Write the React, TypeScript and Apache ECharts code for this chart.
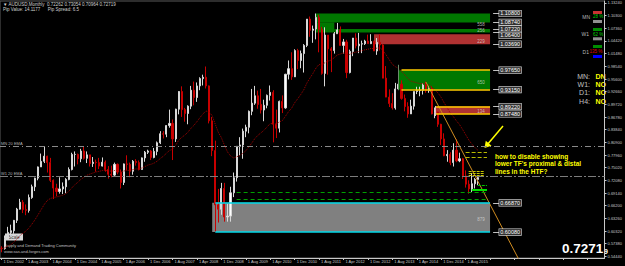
import React, { useEffect, useRef } from 'react';
import * as echarts from 'echarts';

// ---------- data (AUDUSD monthly, Dec 2002 .. Dec 2015) ----------
const open = [
  0.5630,
  0.5625, 0.5860, 0.6000, 0.6040, 0.6280, 0.6540, 0.6700, 0.6530, 0.6510, 0.6810, 0.7060, 0.7260,
  0.7520, 0.7650, 0.7770, 0.7620, 0.7210, 0.7030, 0.6950, 0.7010, 0.7060, 0.7230, 0.7460, 0.7810,
  0.7810, 0.7710, 0.7890, 0.7720, 0.7800, 0.7600, 0.7630, 0.7620, 0.7540, 0.7630, 0.7460, 0.7350,
  0.7330, 0.7580, 0.7400, 0.7160, 0.7590, 0.7580, 0.7420, 0.7650, 0.7620, 0.7460, 0.7730, 0.7860,
  0.7890, 0.7740, 0.7880, 0.8080, 0.8290, 0.8280, 0.8480, 0.8530, 0.8170, 0.8860, 0.9270, 0.8850,
  0.8760, 0.8930, 0.9300, 0.9130, 0.9400, 0.9570, 0.9600, 0.9400, 0.8590, 0.7900, 0.6640, 0.6540,
  0.7020, 0.6360, 0.6380, 0.6920, 0.7270, 0.8000, 0.8030, 0.8350, 0.8440, 0.8810, 0.9000, 0.9170,
  0.8970, 0.8840, 0.8950, 0.9180, 0.9250, 0.8510, 0.8420, 0.9040, 0.8890, 0.9670, 0.9800, 0.9610,
  1.0220, 0.9990, 1.0150, 1.0340, 1.0950, 1.0690, 1.0720, 1.0990, 1.0710, 0.9690, 1.0580, 1.0260,
  1.0220, 1.0610, 1.0700, 1.0340, 1.0420, 0.9710, 1.0200, 1.0510, 1.0330, 1.0370, 1.0380, 1.0440,
  1.0380, 1.0430, 1.0210, 1.0410, 1.0350, 0.9580, 0.9140, 0.8990, 0.8890, 0.9330, 0.9440, 0.9110,
  0.8920, 0.8750, 0.8930, 0.9270, 0.9290, 0.9300, 0.9420, 0.9290, 0.9340, 0.8750, 0.8790, 0.8510,
  0.8170, 0.7780, 0.7810, 0.7620, 0.7910, 0.7660, 0.7710, 0.7310, 0.7120, 0.7010, 0.7130, 0.72262,
];
const high = [
  0.5680,
  0.5930, 0.6130, 0.6180, 0.6290, 0.6570, 0.6780, 0.6750, 0.6650, 0.6880, 0.7110, 0.7270, 0.7530,
  0.7830, 0.8005, 0.7780, 0.7730, 0.7230, 0.7130, 0.7280, 0.7160, 0.7260, 0.7510, 0.7850, 0.7880,
  0.7830, 0.7940, 0.7990, 0.7880, 0.7800, 0.7750, 0.7690, 0.7730, 0.7740, 0.7670, 0.7540, 0.7550,
  0.7620, 0.7600, 0.7460, 0.7600, 0.7790, 0.7620, 0.7680, 0.7700, 0.7670, 0.7740, 0.7890, 0.7920,
  0.7910, 0.7960, 0.8110, 0.8350, 0.8350, 0.8490, 0.8850, 0.8620, 0.8870, 0.9280, 0.9390, 0.8890,
  0.8950, 0.9400, 0.9500, 0.9480, 0.9600, 0.9660, 0.9850, 0.9410, 0.8680, 0.8130, 0.7010, 0.7150,
  0.7150, 0.6670, 0.7060, 0.7390, 0.8000, 0.8210, 0.8410, 0.8500, 0.8830, 0.9330, 0.9400, 0.9290,
  0.9330, 0.9080, 0.9200, 0.9410, 0.9300, 0.8850, 0.9060, 0.9180, 0.9680, 0.9990, 1.0180, 1.0250,
  1.0260, 1.0220, 1.0370, 1.0950, 1.1010, 1.0800, 1.1080, 1.1050, 1.0770, 1.0760, 1.0580, 1.0300,
  1.0650, 1.0860, 1.0780, 1.0490, 1.0470, 1.0240, 1.0510, 1.0620, 1.0630, 1.0450, 1.0470, 1.0590,
  1.0600, 1.0450, 1.0510, 1.0600, 1.0370, 0.9860, 0.9320, 0.9230, 0.9470, 0.9760, 0.9530, 0.9200,
  0.9020, 0.9080, 0.9270, 0.9380, 0.9380, 0.9460, 0.9500, 0.9400, 0.9390, 0.8900, 0.8800, 0.8520,
  0.8300, 0.7910, 0.7860, 0.8070, 0.8160, 0.7850, 0.7730, 0.7440, 0.7210, 0.7380, 0.7260, 0.73054,
];
const low = [
  0.5540,
  0.5600, 0.5840, 0.5920, 0.5970, 0.6220, 0.6530, 0.6450, 0.6400, 0.6460, 0.6780, 0.6960, 0.7210,
  0.7520, 0.7610, 0.7390, 0.7170, 0.6775, 0.6840, 0.6900, 0.6890, 0.6910, 0.7210, 0.7440, 0.7530,
  0.7580, 0.7630, 0.7690, 0.7610, 0.7530, 0.7520, 0.7410, 0.7470, 0.7530, 0.7410, 0.7250, 0.7280,
  0.7300, 0.7350, 0.7020, 0.7100, 0.7450, 0.7280, 0.7340, 0.7550, 0.7440, 0.7460, 0.7640, 0.7820,
  0.7680, 0.7720, 0.7790, 0.8050, 0.8180, 0.8210, 0.8430, 0.7680, 0.8100, 0.8740, 0.8680, 0.8570,
  0.8510, 0.8860, 0.8950, 0.9030, 0.9300, 0.9410, 0.9340, 0.8530, 0.7770, 0.6010, 0.6230, 0.6410,
  0.6250, 0.6250, 0.6250, 0.6820, 0.7180, 0.7790, 0.7710, 0.8210, 0.8300, 0.8720, 0.8960, 0.8870,
  0.8760, 0.8580, 0.8880, 0.9060, 0.8090, 0.8190, 0.8320, 0.8770, 0.8870, 0.9550, 0.9540, 0.9730,
  0.9790, 0.9810, 0.9710, 1.0300, 1.0540, 1.0400, 1.0480, 1.0180, 0.9660, 0.9390, 0.9660, 0.9720,
  1.0150, 1.0610, 1.0350, 1.0150, 0.9580, 0.9690, 1.0090, 1.0270, 1.0160, 1.0160, 1.0350, 1.0380,
  1.0370, 1.0220, 1.0120, 1.0220, 0.9580, 0.9150, 0.8910, 0.8850, 0.8850, 0.9330, 0.9080, 0.8810,
  0.8660, 0.8770, 0.8850, 0.9210, 0.9160, 0.9200, 0.9240, 0.9240, 0.8740, 0.8650, 0.8450, 0.8030,
  0.7770, 0.7640, 0.7560, 0.7530, 0.7630, 0.7630, 0.7240, 0.7040, 0.6900, 0.6940, 0.7020, 0.70964,
];
const close = [
  0.5625,
  0.5860, 0.6000, 0.6040, 0.6280, 0.6540, 0.6700, 0.6530, 0.6510, 0.6810, 0.7060, 0.7260, 0.7520,
  0.7650, 0.7770, 0.7620, 0.7210, 0.7030, 0.6950, 0.7010, 0.7060, 0.7230, 0.7460, 0.7810, 0.7810,
  0.7710, 0.7890, 0.7720, 0.7800, 0.7600, 0.7630, 0.7620, 0.7540, 0.7630, 0.7460, 0.7350, 0.7330,
  0.7580, 0.7400, 0.7160, 0.7590, 0.7580, 0.7420, 0.7650, 0.7620, 0.7460, 0.7730, 0.7860, 0.7890,
  0.7740, 0.7880, 0.8080, 0.8290, 0.8280, 0.8480, 0.8530, 0.8170, 0.8860, 0.9270, 0.8850, 0.8760,
  0.8930, 0.9300, 0.9130, 0.9400, 0.9570, 0.9600, 0.9400, 0.8590, 0.7900, 0.6640, 0.6540, 0.7020,
  0.6360, 0.6380, 0.6920, 0.7270, 0.8000, 0.8030, 0.8350, 0.8440, 0.8810, 0.9000, 0.9170, 0.8970,
  0.8840, 0.8950, 0.9180, 0.9250, 0.8510, 0.8420, 0.9040, 0.8890, 0.9670, 0.9800, 0.9610, 1.0220,
  0.9990, 1.0150, 1.0340, 1.0950, 1.0690, 1.0720, 1.0990, 1.0710, 0.9690, 1.0580, 1.0260, 1.0220,
  1.0610, 1.0700, 1.0340, 1.0420, 0.9710, 1.0200, 1.0510, 1.0330, 1.0370, 1.0380, 1.0440, 1.0380,
  1.0430, 1.0210, 1.0410, 1.0350, 0.9580, 0.9140, 0.8990, 0.8890, 0.9330, 0.9440, 0.9110, 0.8920,
  0.8750, 0.8930, 0.9270, 0.9290, 0.9300, 0.9420, 0.9290, 0.9340, 0.8750, 0.8790, 0.8510, 0.8170,
  0.7780, 0.7810, 0.7620, 0.7910, 0.7660, 0.7710, 0.7310, 0.7120, 0.7010, 0.7130, 0.7230, 0.72719,
];

const xTickLabels = [
  '1 Dec 2002', '1 Aug 2003', '1 Apr 2004', '1 Dec 2004', '1 Aug 2005', '1 Apr 2006', '1 Dec 2006',
  '1 Aug 2007', '1 Apr 2008', '1 Dec 2008', '1 Aug 2009', '1 Apr 2010', '1 Dec 2010', '1 Aug 2011',
  '1 Apr 2012', '1 Dec 2012', '1 Aug 2013', '1 Apr 2014', '1 Dec 2014', '1 Aug 2015',
];
const yTicks = [
  1.1324, 1.1030, 1.0736, 1.0442, 1.0148, 0.9854, 0.9560, 0.9266, 0.8972, 0.8678, 0.8384,
  0.8090, 0.7796, 0.7502, 0.7208, 0.6914, 0.6620, 0.6326, 0.6032, 0.5738, 0.5444,
];

// supply / demand zones: start index, top, bottom
const zoneStart = [103, 103, 109, 122, 130, 142, 69];
const zoneTop = [1.1080, 1.0874, 1.0722, 1.0600, 0.9765, 0.8922, 0.6687];
const zoneBottom = [1.0874, 1.0640, 1.0640, 1.0369, 0.9315, 0.8748, 0.6008];
const zoneKind = ['green', 'green', 'green', 'red', 'green', 'red', 'gray'];
const zoneEnd = 160;
const zoneTagText = ['558', '256', '229', '650', '134', '879'];
const zoneTagPrice = [1.0836, 1.0690, 1.0426, 0.9490, 0.8795, 0.6290];
const priceBoxValues = [1.1080, 1.0874, 1.0722, 1.0640, 1.0369, 0.9765, 0.9315, 0.8922, 0.8748, 0.6687, 0.6008];

const mnEma = 0.7959;
const bidPrice = 0.72719;
const trendFrom = [139, 0.9490];
const trendTo = [170, 0.5296];
const greenDashed = [0.6932, 0.6770];
const yellowDashed = [0.7850, 0.7744];
const yellowShort = [0.7420, 0.7375, 0.7330];

const N_CAT = 198;
const FONT = '"Liberation Sans", Arial, sans-serif';

const ZONE_COLORS: Record<string, string> = { green: '#007800', red: '#b03232', gray: '#808080' };

function hLine(x0: number, x1: number, y: number, color: string, width: number, type: any) {
  return [
    { coord: [x0, y], lineStyle: { color, width, type } },
    { coord: [x1, y] },
  ];
}

export default function App() {
  const ref = useRef<HTMLDivElement>(null);
  useEffect(() => {
    const chart = echarts.init(ref.current!, null, { renderer: 'svg' });
    const candles = close.map((c, i) => [open[i], c, low[i], high[i]]);
    const ema: number[] = [];
    close.forEach((c, i) => ema.push(i === 0 ? c : ema[i - 1] + (2 / 21) * (c - ema[i - 1])));

    const areas = zoneStart.map((s, i) => [
      { xAxis: s, yAxis: zoneTop[i], itemStyle: { color: ZONE_COLORS[zoneKind[i]] } },
      { xAxis: i === 1 ? 109 : zoneEnd, yAxis: zoneBottom[i] },
    ]);

    const lines: any[] = [];
    lines.push(hLine(131, zoneEnd, 0.9765, '#ffcc00', 1.5, 'solid'));
    lines.push(hLine(131, zoneEnd, 0.9315, '#ffcc00', 1.5, 'solid'));
    lines.push(hLine(142, zoneEnd, 0.8922, '#ffcc00', 1.5, 'solid'));
    lines.push(hLine(142, zoneEnd, 0.8748, '#ffcc00', 1.5, 'solid'));
    lines.push(hLine(70, zoneEnd, 0.6687, '#00d8e8', 1.5, 'solid'));
    lines.push(hLine(70, zoneEnd, 0.6008, '#00d8e8', 1.5, 'solid'));
    lines.push([{ coord: [130, 0.9890], lineStyle: { color: '#6a8a6a', width: 1, type: 'solid' } }, { coord: [130, 0.9300] }]);
    lines.push([{ coord: [142, 0.8935], lineStyle: { color: '#e8c0c0', width: 1, type: 'solid' } }, { coord: [142, 0.8700] }]);
    greenDashed.forEach((p) => lines.push(hLine(77, 159, p, '#00a000', 1, [4, 3])));
    yellowDashed.forEach((p) => lines.push(hLine(152, 159, p, '#b8b800', 1, [4, 2])));
    yellowShort.forEach((p) => lines.push(hLine(153, 158, p, '#c8c800', 1, [3, 1])));
    lines.push(hLine(156, 159, 0.7100, '#00c000', 1, [3, 1]));
    lines.push(hLine(154, 159, 0.7000, '#00e000', 2, 'solid'));
    // price boxes
    priceBoxValues.forEach((p) =>
      lines.push([
        {
          coord: [161, p],
          lineStyle: { color: '#c0c0c0', width: 1, type: 'solid' },
          label: {
            show: true, position: 'end', distance: 0, formatter: p.toFixed(5),
            color: '#ffffff', fontSize: 5.5, fontFamily: FONT, backgroundColor: '#303030',
            borderColor: '#e0e0e0', borderWidth: 0.6, padding: [0.5, 1, 0, 1], lineHeight: 5.5,
            offset: p === 1.0640 ? [0, 3] : [0, 0],
          },
        },
        { coord: [163, p] },
      ]),
    );
    // EMA level lines
    lines.push({
      yAxis: mnEma, lineStyle: { color: '#8a8a8a', width: 1, type: [6, 3, 1, 3] },
      label: { show: true, position: 'insideStartTop', distance: 1, formatter: 'MN 20 EMA', color: '#b0b0b0', fontSize: 4, fontFamily: FONT },
    });
    lines.push({
      yAxis: mnEma, lineStyle: { opacity: 0 },
      label: { show: true, position: 'end', distance: 1, formatter: '0.79590', color: '#000', fontSize: 4, fontFamily: FONT, backgroundColor: '#8c8c8c', padding: [1, 1] },
    });
    lines.push({
      yAxis: bidPrice, lineStyle: { color: '#7c7c7c', width: 1, type: [8, 2, 2, 2] },
      label: { show: true, position: 'insideStartTop', distance: 1, formatter: 'W1 20 EMA', color: '#b0b0b0', fontSize: 4, fontFamily: FONT },
    });
    lines.push({
      yAxis: bidPrice, lineStyle: { opacity: 0 },
      label: { show: true, position: 'end', distance: 1, formatter: '0.72719', color: '#000', fontSize: 4, fontFamily: FONT, backgroundColor: '#8c8c8c', padding: [1, 1] },
    });

    const txt = (x: number, y: number, text: string, fill: string, fontSize: number, extra: any = {}) => ({
      type: 'text', x, y, silent: true,
      style: { text, fill, fontSize, fontFamily: FONT, verticalAlign: 'middle', ...extra },
    });
    const bar = (x: number, y: number, w: number, h: number, fill: string) => ({
      type: 'rect', silent: true, shape: { x, y, width: w, height: h }, style: { fill },
    });

    const option: any = {
      animation: false,
      backgroundColor: '#000000',
      grid: { left: 0, top: 1, right: 17, bottom: 8, show: true, borderColor: '#5a5a5a', borderWidth: 1 },
      xAxis: {
        type: 'category',
        data: Array.from({ length: N_CAT }, (_, i) => String(i)),
        boundaryGap: true,
        axisLine: { show: true, lineStyle: { color: '#c8c8c8', width: 1 } },
        axisTick: { show: true, interval: 7, alignWithLabel: true, length: 2, lineStyle: { color: '#c8c8c8' } },
        axisLabel: {
          interval: 7, fontSize: 4, color: '#c8c8c8', align: 'left', margin: 1, fontFamily: FONT,
          padding: [0, 0, 0, 2],
          formatter: (_v: string, i: number) => (i % 8 === 0 && xTickLabels[i / 8]) ? xTickLabels[i / 8] : '',
        },
        splitLine: { show: false },
      },
      yAxis: {
        type: 'value', position: 'right', min: 0.5407, max: 1.137, scale: true,
        splitLine: { show: false },
        axisLine: { show: true, lineStyle: { color: '#c8c8c8', width: 1 } },
        axisTick: { show: true, length: 2, customValues: yTicks, lineStyle: { color: '#c8c8c8' } },
        axisLabel: {
          customValues: yTicks, fontSize: 4, color: '#c8c8c8', margin: 3, fontFamily: FONT,
          formatter: (v: number) => v.toFixed(5),
        },
      },
      series: [
        {
          type: 'candlestick', data: candles, barWidth: 1.6, z: 2,
          itemStyle: { color: '#ffffff', color0: '#c80000', borderColor: '#d8d8d8', borderColor0: '#c80000', borderWidth: 1 },
          markArea: { silent: true, data: areas },
          markLine: { silent: true, symbol: ['none', 'none'], label: { show: false }, data: lines },
        },
        {
          type: 'line', data: ema, showSymbol: false, symbol: 'none', z: 3, silent: true,
          lineStyle: { color: '#a00000', width: 1, type: 'dotted' },
        },
        {
          type: 'line', data: [trendFrom, trendTo], showSymbol: false, symbol: 'none', z: 4, silent: true, clip: true,
          lineStyle: { color: '#d08c20', width: 1 },
        },
        {
          type: 'scatter', symbolSize: 0, z: 4, silent: true,
          data: zoneTagText.map((t, i) => [157, zoneTagPrice[i], t]),
          label: { show: true, position: 'inside', formatter: (p: any) => p.value[2], color: '#d8d8d8', fontSize: 4.5, fontFamily: FONT },
        },
      ],
      graphic: [
        txt(3, 4, '\u25BC AUDUSD,Monthly  0.72262 0.73054 0.70964 0.72719', '#d0d0d0', 4.5),
        txt(3, 9.5, 'Pip Value: 14.1177      Pip Spread: 6.5', '#d0d0d0', 4.5),
        // top-right strength panel
        bar(593, 11, 9, 3, '#c83232'),
        txt(590, 16.7, 'MN', '#b8b8b8', 5, { align: 'right' }),
        txt(593, 16.7, '28 %', '#00d000', 4.5),
        bar(593, 20, 9, 3, '#909090'),
        bar(593, 28, 9, 3, '#008c00'),
        txt(589, 34, 'W1', '#b8b8b8', 5, { align: 'right' }),
        txt(593, 34, '62 %', '#00d000', 4.5),
        bar(593, 37.3, 9, 3, '#909090'),
        bar(593, 45, 9, 3, '#008c00'),
        txt(589, 51.7, 'D1', '#b8b8b8', 5, { align: 'right' }),
        txt(589.5, 51.7, '135 %', '#e00000', 4.5),
        bar(593, 55, 9, 3, '#0000ff'),
        txt(590, 76, 'MN:', '#c0c0c0', 7, { align: 'right' }),
        txt(595.5, 76, 'DN', '#ffff00', 7, { fontWeight: 'bold' }),
        txt(590, 84.3, 'W1:', '#c0c0c0', 7, { align: 'right' }),
        txt(595.5, 84.3, 'NO', '#ffff00', 7, { fontWeight: 'bold' }),
        txt(590, 92.7, 'D1:', '#c0c0c0', 7, { align: 'right' }),
        txt(595.5, 92.7, 'NO', '#ffff00', 7, { fontWeight: 'bold' }),
        txt(590, 101, 'H4:', '#c0c0c0', 7, { align: 'right' }),
        txt(595.5, 101, 'NO', '#ffff00', 7, { fontWeight: 'bold' }),
        // annotation
        {
          type: 'line', silent: true, shape: { x1: 503, y1: 126, x2: 487, y2: 145 },
          style: { stroke: '#ffff00', lineWidth: 1.5 },
        },
        {
          type: 'polygon', silent: true, shape: { points: [[484.5, 148], [485.8, 140.8], [491.5, 145.8]] },
          style: { fill: '#ffff00' },
        },
        {
          type: 'text', x: 495, y: 152.3, silent: true,
          style: {
            text: "how to disable showing\nlower TF's proximal & distal\nlines in the HTF?",
            fill: '#ffff00', fontSize: 6.5, fontWeight: 'bold', fontFamily: FONT, lineHeight: 7.8,
          },
        },
        // bottom-right price
        txt(562, 248, '0.7271', '#ffffff', 13.5, { fontWeight: 'bold' }),
        txt(604, 251.5, '9', '#ffffff', 7, { fontWeight: 'bold' }),
        // bottom-left
        bar(5, 233.5, 18, 7, '#d8d8d8'),
        txt(14, 237, 'Scale', '#404040', 4.5, { align: 'center' }),
        txt(4, 245.7, 'Supply and Demand Trading Community', '#c0c0c0', 4),
        txt(4, 251.7, 'www.sas-and-forges.com', '#c0c0c0', 4),
      ],
    };
    chart.setOption(option);
    return () => chart.dispose();
  }, []);
  return (
    <div
      ref={ref}
      style={{ position: 'fixed', left: 0, top: 0, width: 625, height: 266, background: '#000' }}
    />
  );
}
